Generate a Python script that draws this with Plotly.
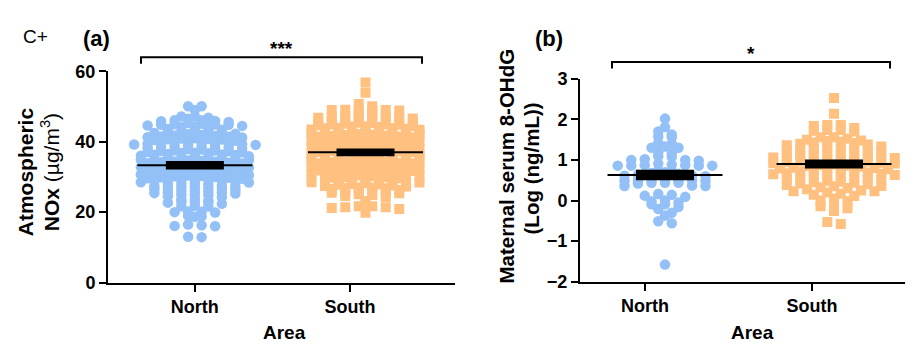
import math
import plotly.graph_objects as go
from collections import defaultdict

# ---------------- data ----------------
categories = ["North", "South"]

nox_north = [
    50.1, 50.1, 49.0, 47.2, 47.2, 46.1, 46.1, 45.8, 45.3, 44.8, 44.8,
    46.5, 45.9, 45.6, 45.1, 44.6, 44.9, 46.8, 45.0,
    44.3, 44.1, 43.9, 43.6, 43.4, 43.2, 42.9, 42.7, 42.5, 42.3, 42.1, 43.0, 44.5, 42.8,
    41.9, 41.8, 41.5, 41.3, 41.0, 40.8, 40.6, 40.3, 40.1, 41.6, 41.2, 40.9, 40.5, 40.0, 41.4, 40.7,
    39.9, 39.7, 39.4, 39.2, 38.9, 38.7, 38.5, 38.2, 38.0, 39.6, 39.1, 38.8, 38.4, 39.8, 39.3, 38.6,
    37.9, 37.6, 37.4, 37.1, 36.9, 36.7, 36.4, 36.2, 36.0, 37.8, 37.3, 36.8, 36.5, 37.5, 37.0, 36.3,
    35.9, 35.6, 35.4, 35.1, 34.9, 34.7, 34.4, 34.2, 34.0, 35.8, 35.3, 34.8, 34.5, 35.5, 35.0, 34.3,
    33.9, 33.7, 33.4, 33.2, 32.9, 32.7, 32.4, 32.2, 32.0, 33.8, 33.3, 32.8, 32.5, 33.5, 33.0, 32.3,
    31.9, 31.6, 31.4, 31.1, 30.9, 30.7, 30.4, 30.2, 30.0, 31.8, 31.3, 30.8, 30.5, 31.5, 31.0, 30.3,
    29.9, 29.6, 29.4, 29.1, 28.9, 28.7, 28.4, 28.2, 28.0, 29.8, 29.3, 28.8, 28.5, 29.5, 29.0,
    27.9, 27.6, 27.3, 27.1, 26.8, 26.6, 26.3, 26.1, 27.8, 27.4, 26.9, 26.5, 27.0,
    25.9, 25.6, 25.5, 25.4, 25.1, 24.8, 24.5, 24.2, 25.8, 24.9, 25.3,
    23.6, 23.0, 22.8, 22.8, 22.7, 23.3, 22.4, 23.8,
    21.7, 21.6, 21.8, 20.2, 20.0, 20.1, 19.9,
    18.8, 18.9, 18.7,
    16.3, 16.0, 16.1, 16.5,
    12.9, 13.0,
]

nox_south = [
    56.8, 53.9, 50.7, 50.1, 49.1, 49.0, 49.2, 49.1, 48.9, 49.0,
    47.8, 47.6, 47.3, 47.1, 46.8, 46.6, 46.3, 46.1, 47.9, 47.4, 46.9, 46.4, 47.0, 46.0,
    45.9, 45.6, 45.4, 45.1, 44.9, 44.7, 44.4, 44.2, 44.0, 45.8, 45.3, 44.8, 44.5, 45.5, 45.0, 44.3,
    43.9, 43.7, 43.4, 43.2, 42.9, 42.7, 42.4, 42.2, 42.0, 43.8, 43.3, 42.8, 42.5, 43.5, 43.0, 42.3,
    41.9, 41.6, 41.4, 41.1, 40.9, 40.7, 40.4, 40.2, 40.0, 41.8, 41.3, 40.8, 40.5, 41.5, 41.0, 40.3,
    39.9, 39.7, 39.4, 39.2, 38.9, 38.7, 38.4, 38.2, 38.0, 39.8, 39.3, 38.8, 38.5, 39.5, 39.0, 38.3,
    37.9, 37.6, 37.4, 37.1, 36.9, 36.7, 36.4, 36.2, 36.0, 37.8, 37.3, 36.8, 36.5, 37.5, 37.0, 36.3,
    35.9, 35.7, 35.4, 35.2, 34.9, 34.7, 34.4, 34.2, 34.0, 35.8, 35.3, 34.8, 34.5, 35.5, 35.0, 34.3,
    33.9, 33.6, 33.4, 33.1, 32.9, 32.7, 32.4, 32.2, 32.0, 33.8, 33.3, 32.8, 32.5, 33.5, 33.0, 32.3,
    31.9, 31.7, 31.4, 31.2, 30.9, 30.7, 30.4, 30.2, 30.0, 31.8, 31.3, 30.8, 30.5, 31.5, 31.0,
    29.9, 29.6, 29.4, 29.1, 28.9, 28.7, 28.4, 28.2, 29.8, 29.3, 28.8, 28.5, 29.0, 28.0,
    27.9, 27.6, 27.4, 27.1, 26.9, 26.6, 26.3, 26.1, 27.8, 27.3, 26.8, 27.0,
    25.8, 25.5, 25.5, 25.4, 25.6, 24.6, 24.3, 25.1, 24.9,
    21.7, 21.4, 21.2, 21.4, 21.7, 20.9, 22.6, 23.2,
    19.8,
]

ohdg_north = [
    2.02, 1.81, 1.70, 1.63, 1.58, 1.56, 1.42, 1.40, 1.33, 1.30, 1.30, 1.19, 1.16,
    1.09, 1.07, 1.02, 1.00, 1.00, 0.98, 0.91, 0.87, 0.86, 0.86, 0.86, 0.88, 0.86, 0.87,
    0.72, 0.74, 0.70, 0.68, 0.66, 0.64, 0.60, 0.61, 0.62,
    0.51, 0.50, 0.50, 0.49, 0.50, 0.48, 0.51, 0.36, 0.36, 0.44, 0.42, 0.44, 0.37, 0.44,
    0.14, 0.12, 0.09, 0.16, 0.00, -0.05, -0.09, -0.09, -0.02, -0.21, -0.16, -0.37, -0.30,
    -0.51, -0.56, -1.58,
]

ohdg_south = [
    2.53, 2.14, 1.86, 1.86, 1.84, 1.79, 1.74, 1.74, 1.72, 1.70, 1.56, 1.56,
    1.52, 1.50, 1.48, 1.45, 1.43, 1.40, 1.38, 1.36, 1.33, 1.31, 1.47, 1.42,
    1.29, 1.27, 1.25, 1.22, 1.20, 1.18, 1.16, 1.14, 1.12, 1.10, 1.26, 1.21, 1.15,
    1.09, 1.07, 1.05, 1.03, 1.01, 0.99, 0.97, 0.95, 0.93, 0.91, 1.06, 1.00, 0.96, 0.92,
    0.89, 0.87, 0.85, 0.83, 0.81, 0.79, 0.77, 0.75, 0.73, 0.71, 0.86, 0.80, 0.76, 0.72,
    0.69, 0.67, 0.65, 0.63, 0.61, 0.59, 0.57, 0.55, 0.53, 0.51, 0.66, 0.60, 0.54,
    0.49, 0.47, 0.45, 0.42, 0.40, 0.38, 0.35, 0.33, 0.31, 0.44, 0.36,
    0.28, 0.25, 0.23, 0.20, 0.17, 0.14, 0.11, 0.23,
    0.05, 0.00, -0.02, -0.12, -0.14, -0.19, -0.26, -0.53, -0.58,
]

# reported group mean and SEM
nox_mean = [33.3, 37.0]
nox_sem = [1.2, 1.1]
ohdg_mean = [0.63, 0.90]
ohdg_sem = [0.13, 0.11]

sig_a = "***"
sig_b = "*"

# ---------------- layout constants ----------------
W, H = 919, 352
FONT = "Arial, Liberation Sans, sans-serif"
BLUE = "rgb(146,192,247)"
ORANGE = "rgb(255,192,128)"

A_X = (108, 455); A_Y = (65, 289)
B_X = (580, 905); B_Y = (73, 288)
a_xrange = [0.44, 2.677]
b_xrange = [0.611, 2.557]
a_yrange = [0, 60]
b_yrange = [-2, 3]
a_centers = [1.0, 2.1]
b_centers = [1.12, 2.132]

a_ppu = (A_X[1] - A_X[0]) / (a_xrange[1] - a_xrange[0])
b_ppu = (B_X[1] - B_X[0]) / (b_xrange[1] - b_xrange[0])


def swarm(values, center, binsize, ppx, col_w=13.5):
    """Prism-style rows: bin by value, spread each bin sideways, highest value in the middle."""
    bins = defaultdict(list)
    for v in values:
        bins[math.floor(v / binsize + 0.5)].append(v)
    xs, ys = [], []
    for k in sorted(bins):
        vs = sorted(bins[k], reverse=True)
        n = len(vs)
        slots = [(i - (n - 1) / 2) for i in range(n)]
        slots.sort(key=lambda s: (abs(s), s))
        for v, s in zip(vs, slots):
            xs.append(center + s * col_w / ppx)
            ys.append(v)
    return xs, ys


fig = go.Figure()

groups = [
    (nox_north, a_centers[0], 1.07, a_ppu, BLUE, "circle", "x", "y"),
    (nox_south, a_centers[1], 1.07, a_ppu, ORANGE, "square", "x", "y"),
    (ohdg_north, b_centers[0], 0.13, b_ppu, BLUE, "circle", "x2", "y2"),
    (ohdg_south, b_centers[1], 0.14, b_ppu, ORANGE, "square", "x2", "y2"),
]
for vals, c, bs, ppx, col, sym, xa, ya in groups:
    xs, ys = swarm(vals, c, bs, ppx)
    fig.add_trace(go.Scatter(
        x=xs, y=ys, mode="markers", xaxis=xa, yaxis=ya,
        marker=dict(color=col, size=10.5 if sym == "circle" else 10, symbol=sym, line=dict(width=0)),
        showlegend=False, hoverinfo="y",
    ))

shapes = []
for centers, means, sems, xr, yr, ppu in [
    (a_centers, nox_mean, nox_sem, "x", "y", a_ppu),
    (b_centers, ohdg_mean, ohdg_sem, "x2", "y2", b_ppu),
]:
    for c, m, s in zip(centers, means, sems):
        half_line = 57.5 / ppu
        half_box = 29 / ppu
        shapes.append(dict(type="line", xref=xr, yref=yr, x0=c - half_line, x1=c + half_line,
                           y0=m, y1=m, line=dict(color="black", width=2)))
        shapes.append(dict(type="rect", xref=xr, yref=yr, x0=c - half_box, x1=c + half_box,
                           y0=m - s, y1=m + s, fillcolor="black", line=dict(width=0)))


def px(x):
    return x / W


def py(y):
    return 1 - y / H


for x0, x1, ytop, drop in [(141, 422, 50, 7), (612, 890, 55, 7)]:
    shapes.append(dict(type="path", xref="paper", yref="paper",
                       path=f"M {px(x0)} {py(ytop + drop)} L {px(x0)} {py(ytop)} L {px(x1)} {py(ytop)} L {px(x1)} {py(ytop + drop)}",
                       line=dict(color="black", width=2)))

axis_common = dict(showgrid=False, zeroline=False, showline=True, linecolor="black", linewidth=2,
                   ticks="outside", ticklen=7, tickwidth=2, tickcolor="black",
                   tickfont=dict(family=FONT, size=18, color="black", weight="bold"))

fig.update_layout(
    width=W, height=H, margin=dict(l=0, r=0, t=0, b=0),
    paper_bgcolor="white", plot_bgcolor="white",
    xaxis=dict(domain=[px(A_X[0]), px(A_X[1])], range=a_xrange, tickvals=[1, 2], ticktext=categories,
               anchor="y", **axis_common),
    yaxis=dict(domain=[py(A_Y[1]), py(A_Y[0])], range=a_yrange, tickvals=[0, 20, 40, 60],
               anchor="x", **axis_common),
    xaxis2=dict(domain=[px(B_X[0]), px(B_X[1])], range=b_xrange, tickvals=[1, 2], ticktext=categories,
                anchor="y2", **axis_common),
    yaxis2=dict(domain=[py(B_Y[1]), py(B_Y[0])], range=b_yrange, tickvals=[-2, -1, 0, 1, 2, 3],
                anchor="x2", **axis_common),
    shapes=shapes,
)

ann = []


def text(x, y, t, size, bold=True, angle=0):
    ann.append(dict(x=px(x), y=py(y), xref="paper", yref="paper", text=t, showarrow=False,
                    textangle=angle, xanchor="center", yanchor="middle",
                    font=dict(family=FONT, size=size, color="black", weight="bold" if bold else "normal")))


text(35, 28, "C+", 19, bold=False)
text(96, 30, "(a)", 22)
text(549, 30, "(b)", 22)
text(281, 41, sig_a, 19)
text(751, 46, sig_b, 19)
text(284, 342, "Area", 19)
text(752, 342, "Area", 19)
text(25, 172, "Atmospheric", 21, angle=-90)
text(50, 172, "NOx <span style='font-weight:normal'>(µg/m<sup>3</sup>)</span>", 21, angle=-90)
text(507, 166, "Maternal serum 8-OHdG", 20.5, angle=-90)
text(531, 168, "(Log (ng/mL))", 20.5, angle=-90)
fig.update_layout(annotations=ann)

fig.write_html("out.html")
